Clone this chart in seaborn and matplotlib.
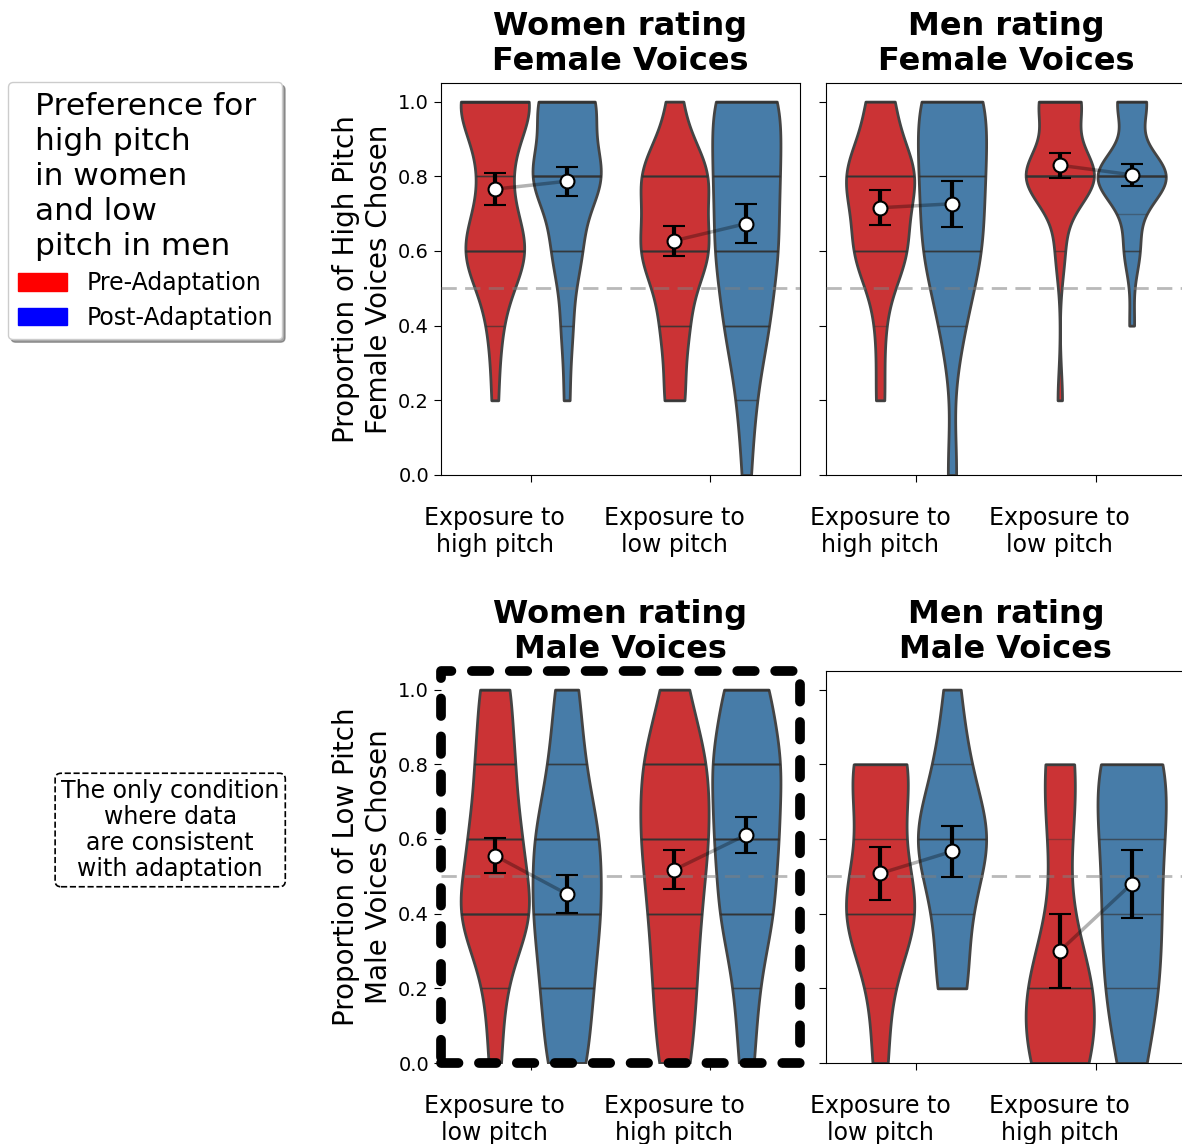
import numpy as np
import pandas as pd
import matplotlib
matplotlib.use("Agg")
import matplotlib.pyplot as plt
import matplotlib.patches as mpatches
import seaborn as sns

# proportion levels that occur in the data
levels = [0.0, 0.2, 0.4, 0.6, 0.7, 0.8, 1.0]

# number of participants at each level (same order as levels)
# Women rating female voices
wf_high_pre = [0, 1, 2, 10, 0, 4, 12]
wf_high_post = [0, 1, 2, 5, 0, 12, 10]
wf_low_pre = [0, 3, 4, 10, 0, 10, 2]
wf_low_post = [1, 2, 5, 7, 0, 7, 8]
# Men rating female voices
mf_high_pre = [0, 1, 1, 6, 0, 8, 3]
mf_high_post = [1, 0, 2, 5, 0, 5, 6]
mf_low_pre = [0, 1, 0, 2, 0, 15, 9]
mf_low_post = [0, 0, 1, 3, 1, 14, 6]
# Women rating male voices
wm_low_pre = [2, 3, 12, 8, 0, 6, 5]
wm_low_post = [5, 6, 8, 8, 0, 4, 3]
wm_high_pre = [4, 5, 6, 8, 0, 8, 3]
wm_high_post = [2, 3, 7, 8, 0, 9, 6]
# Men rating male voices
mm_low_pre = [1, 1, 5, 2, 0, 4, 0]
mm_low_post = [0, 2, 2, 5, 0, 2, 1]
mm_high_pre = [3, 4, 0, 1, 0, 2, 0]
mm_high_post = [1, 2, 2, 2, 0, 3, 0]

stages = ["Pre-Adaptation", "Post-Adaptation"]
exp_high = "Exposure to\nhigh pitch"
exp_low = "Exposure to\nlow pitch"

titles = ["Women rating\nFemale Voices", "Men rating\nFemale Voices",
          "Women rating\nMale Voices", "Men rating\nMale Voices"]
ylabels = ["Proportion of High Pitch\nFemale Voices Chosen",
           "Proportion of Low Pitch\nMale Voices Chosen"]

panels = [
    ([exp_high, exp_low], {(exp_high, stages[0]): wf_high_pre, (exp_high, stages[1]): wf_high_post,
                           (exp_low, stages[0]): wf_low_pre, (exp_low, stages[1]): wf_low_post}),
    ([exp_high, exp_low], {(exp_high, stages[0]): mf_high_pre, (exp_high, stages[1]): mf_high_post,
                           (exp_low, stages[0]): mf_low_pre, (exp_low, stages[1]): mf_low_post}),
    ([exp_low, exp_high], {(exp_low, stages[0]): wm_low_pre, (exp_low, stages[1]): wm_low_post,
                           (exp_high, stages[0]): wm_high_pre, (exp_high, stages[1]): wm_high_post}),
    ([exp_low, exp_high], {(exp_low, stages[0]): mm_low_pre, (exp_low, stages[1]): mm_low_post,
                           (exp_high, stages[0]): mm_high_pre, (exp_high, stages[1]): mm_high_post}),
]


def build_frame(counts):
    rows = []
    for (exposure, stage), c in counts.items():
        for v in np.repeat(levels, c):
            rows.append({"exposure": exposure, "stage": stage, "score": v})
    return pd.DataFrame(rows)


palette = sns.color_palette("Set1", 2)

fig = plt.figure(figsize=(11.82, 11.44), dpi=100)
ax_w, ax_h = 0.304, 0.3427
positions = [(0.373, 0.5848), (0.699, 0.5848), (0.373, 0.0708), (0.699, 0.0708)]

for k, ((order, counts), (left, bottom)) in enumerate(zip(panels, positions)):
    ax = fig.add_axes([left, bottom, ax_w, ax_h])
    df = build_frame(counts)

    sns.violinplot(data=df, x="exposure", y="score", hue="stage",
                   order=order, hue_order=stages, palette=palette,
                   cut=0, inner="stick", density_norm="width", gap=0.05,
                   bw_adjust=0.85, linewidth=2, linecolor="#444444",
                   inner_kws=dict(linewidth=1, color="#333333", alpha=0.4),
                   legend=False, ax=ax)

    ax.axhline(0.5, color="gray", ls=(0, (5.5, 3)), lw=2, alpha=0.55, zorder=4)

    # means with standard errors, joined within each exposure condition
    stats = df.groupby(["exposure", "stage"])["score"].agg(["mean", "sem"])
    for i, exposure in enumerate(order):
        xs = [i - 0.2, i + 0.2]
        ms = [stats.loc[(exposure, s), "mean"] for s in stages]
        es = [stats.loc[(exposure, s), "sem"] for s in stages]
        ax.plot(xs, ms, color="black", lw=2.5, alpha=0.3, zorder=5)
        ax.errorbar(xs, ms, yerr=es, fmt="o", color="black", mfc="white",
                    mec="black", ms=10, mew=1.5, elinewidth=3,
                    capsize=8, capthick=1.2, zorder=6)

    ax.set_xlim(-0.5, 1.5)
    ax.set_ylim(0, 1.05)
    ax.set_yticks([0.0, 0.2, 0.4, 0.6, 0.8, 1.0])
    ax.tick_params(axis="y", labelsize=14, length=5)
    ax.set_xticks([0, 1], labels=["", ""])
    ax.tick_params(axis="x", which="major", length=5)
    ax.set_xticks([-0.2, 0.8], labels=order, minor=True)
    ax.tick_params(axis="x", which="minor", length=0, pad=22, labelsize=17)
    ax.set_xlabel("")
    ax.set_title(titles[k], fontsize=23, fontweight="bold", pad=9)
    if k % 2 == 0:
        ax.set_ylabel(ylabels[k // 2], fontsize=20, labelpad=4)
    else:
        ax.set_ylabel("")
        ax.tick_params(axis="y", labelleft=False)

    if k == 2:
        for sp in ax.spines.values():
            sp.set_visible(False)
        box = mpatches.Rectangle((0, 0), 1, 1, transform=ax.transAxes, fill=False,
                                 ec="black", lw=7, ls=(0, (1.8, 2.1)),
                                 capstyle="round", joinstyle="round",
                                 clip_on=False, zorder=10)
        ax.add_patch(box)

handles = [mpatches.Patch(color="red", label="Pre-Adaptation"),
           mpatches.Patch(color="blue", label="Post-Adaptation")]
leg = fig.legend(handles=handles,
                 title="Preference for\nhigh pitch\nin women\nand low\npitch in men",
                 loc="upper left", bbox_to_anchor=(0.007, 0.928), borderaxespad=0,
                 shadow=True, fontsize=17, title_fontsize=22.5, handlelength=2.1,
                 handleheight=0.75, handletextpad=0.8, borderpad=0.4,
                 labelspacing=0.45, framealpha=1)
leg.get_title().set_linespacing(1.26)

fig.text(0.144, 1 - 830 / 1144,
         "The only condition\nwhere data\nare consistent\nwith adaptation",
         ha="center", va="center", fontsize=17, linespacing=1.1,
         bbox=dict(boxstyle="round,pad=0.25", fc="white", ec="black", ls="--", lw=1.2))

fig.savefig("out.png", dpi=100)
